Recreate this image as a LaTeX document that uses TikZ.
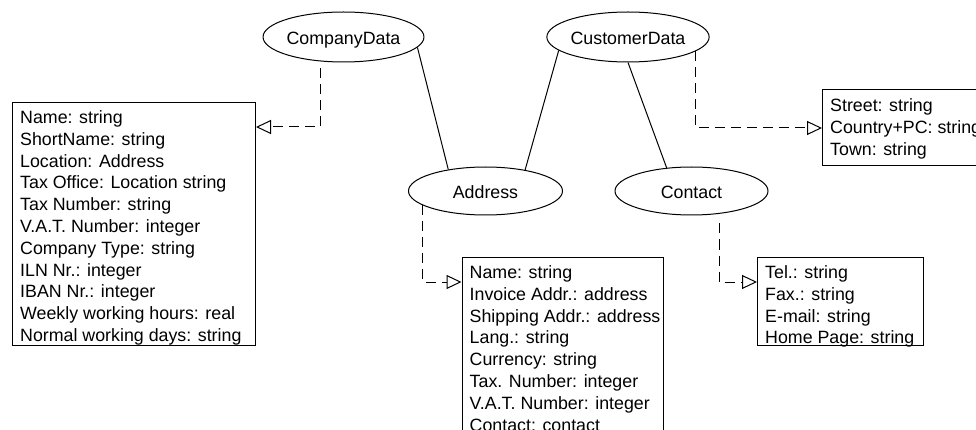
\documentclass[tikz,border=0pt]{standalone}
\usepackage{fontspec}
\setmainfont{Liberation Sans}
\usetikzlibrary{arrows.meta,shapes.geometric,calc}
\begin{document}
\begin{tikzpicture}[x=1pt,y=-1pt,
  every node/.style={font=\fontsize{17.8}{21.8}\selectfont},
  ent/.style={ellipse, draw, line width=1pt, inner sep=0pt, text height=15pt, text depth=0pt},
  attrbox/.style={draw, line width=1pt, anchor=north west, inner sep=0pt},
  attrtext/.style={anchor=north west, inner sep=0pt, align=left},
  assoc/.style={line width=1pt},
  realize/.style={line width=1pt, dash pattern=on 10pt off 6pt, -{Triangle[open,length=15pt,width=14pt]}}
]
\clip (0,0) rectangle (976,430);
\fill[white] (0,0) rectangle (976,430);

% entities
\node[ent, minimum width=153pt, minimum height=50pt] (cd) at (343.5,37) {CompanyData};
\node[ent, minimum width=152pt, minimum height=50pt] (cu) at (628,37) {CustomerData};
\node[ent, minimum width=154pt, minimum height=48pt] (ad) at (485.5,191) {Address};
\node[ent, minimum width=153pt, minimum height=48pt] (co) at (691.5,191) {Contact};

% attribute boxes
\node[attrbox, minimum width=243pt, minimum height=243pt] (lb) at (12,102) {};
\node[attrbox, minimum width=180pt, minimum height=76pt] (cub) at (822,89) {};
\node[attrbox, minimum width=201pt, minimum height=220pt] (adb) at (461.5,257) {};
\node[attrbox, minimum width=166pt, minimum height=88pt] (cob) at (757,257) {};

\node[attrtext] (lbt) at ($(lb.north west)+(8,6.1)$) {\strut Name: string\\ShortName: string\\Location: Address\\Tax Office: Location string\\Tax Number: string\\V.A.T. Number: integer\\Company Type: string\\ILN Nr.: integer\\IBAN Nr.: integer\\Weekly working hours: real\\Normal working days: string};
\node[attrtext] (cubt) at ($(cub.north west)+(8,7.1)$) {\strut Street: string\\Country+PC: string\\Town: string};
\node[attrtext] (adbt) at ($(adb.north west)+(8,6.1)$) {\strut Name: string\\Invoice Addr.: address\\Shipping Addr.: address\\Lang.: string\\Currency: string\\Tax. Number: integer\\V.A.T. Number: integer\\Contact: contact};
\node[attrtext] (cobt) at ($(cob.north west)+(8,6.1)$) {\strut Tel.: string\\Fax.: string\\E-mail: string\\Home Page: string};

% associations
\draw[assoc] (cd.-8.5) -- (ad.150);
\draw[assoc] (cu.-169) -- (ad.28);
\draw[assoc] (cu.south) -- (co.137);

% realizations
\draw[realize] ($(cd.south)+(-23.5,6)$) |- ($(lb.north east)+(0,25)$);
\draw[realize] (cu.-12) |- ($(cub.north west)+(0,39)$);
\draw[realize] (ad.-167.4) |- ($(adb.north west)+(0,25)$);
\draw[realize] ($(co.south)+(27.5,8)$) |- ($(cob.north west)+(0,25)$);
\end{tikzpicture}
\end{document}
